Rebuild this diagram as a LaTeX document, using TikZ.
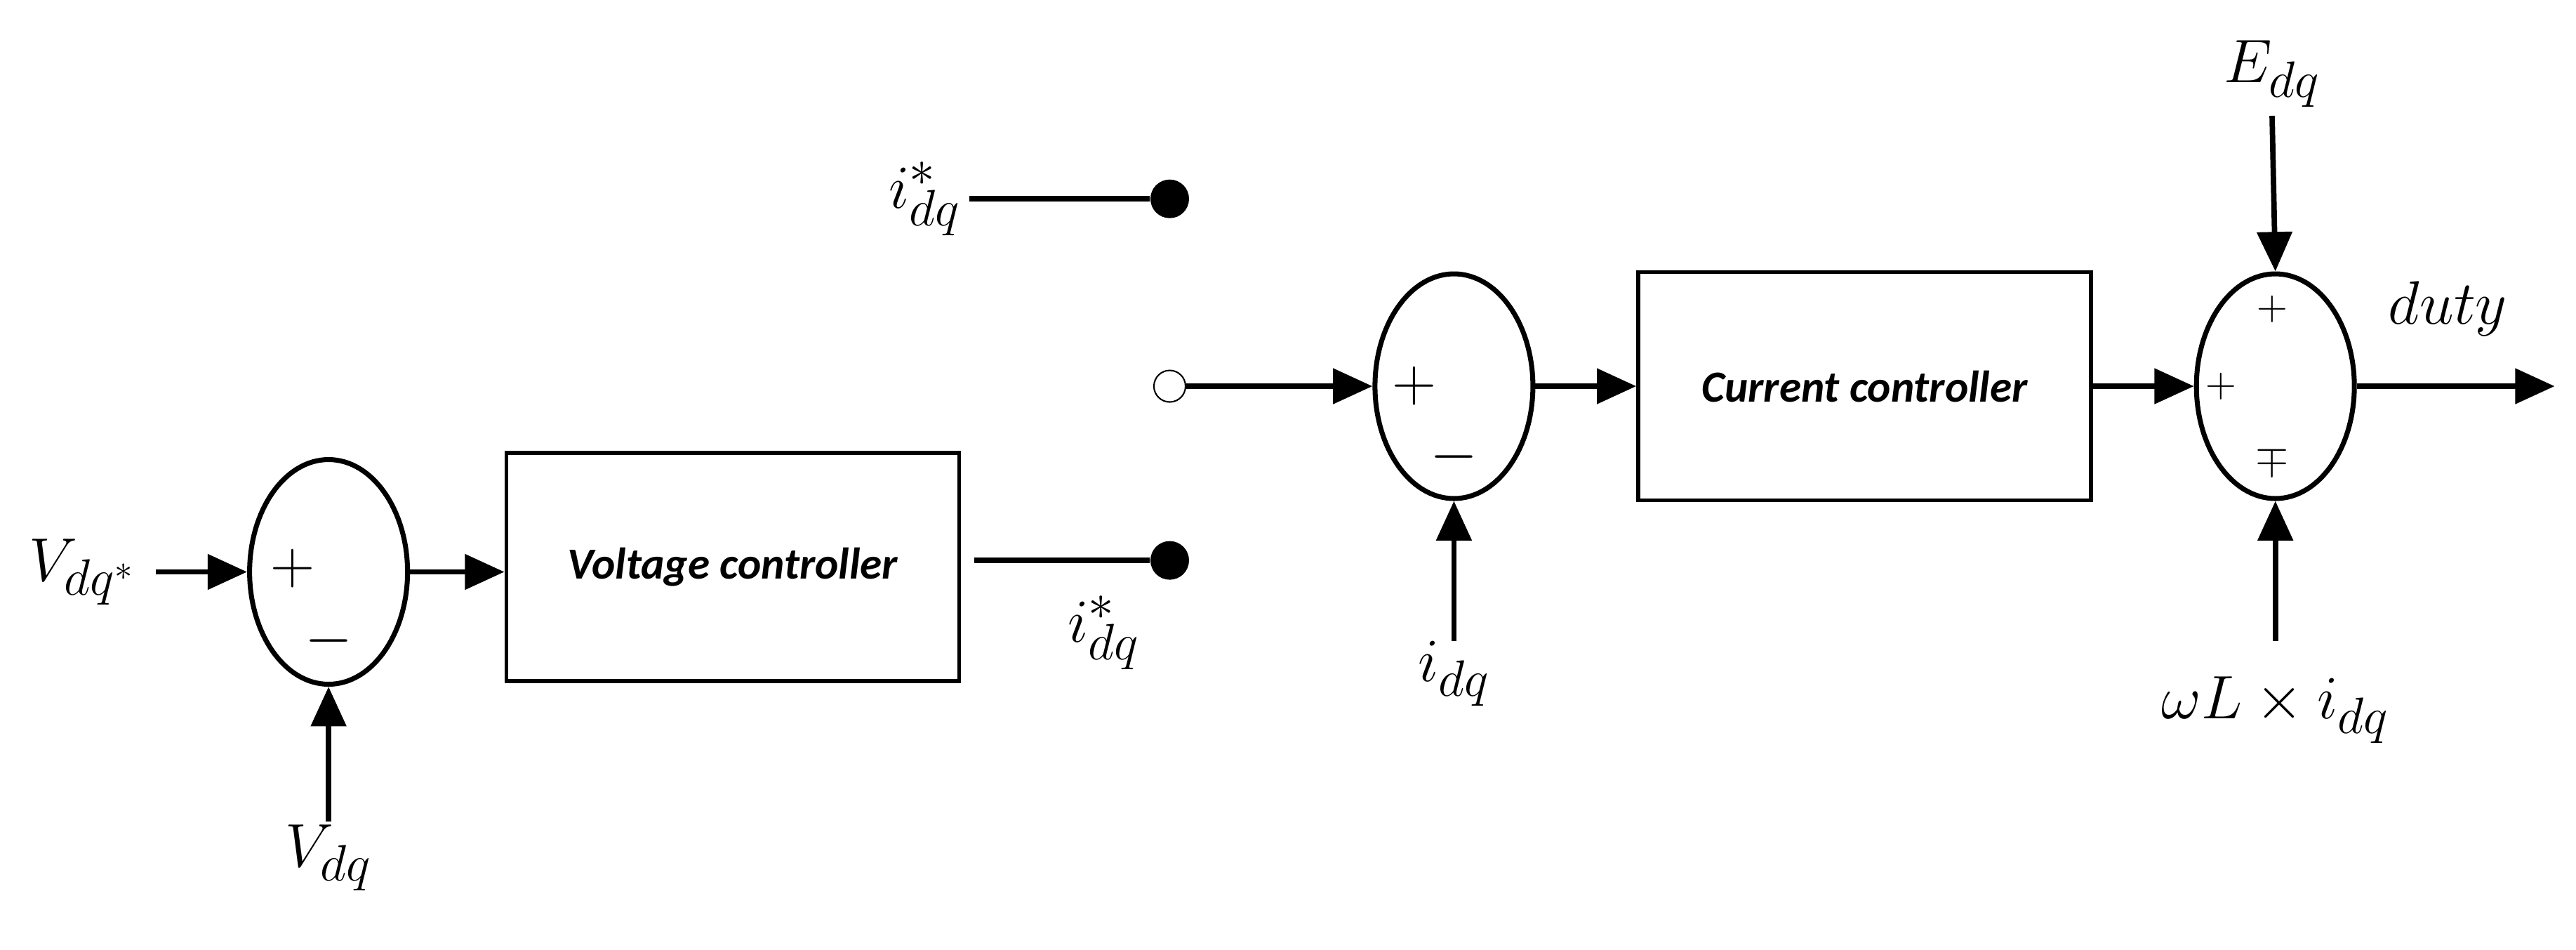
\documentclass[tikz,border=0pt]{standalone}
\usepackage{fontspec}
\newfontfamily\blockfont{Carlito}
\usetikzlibrary{shapes.geometric,arrows.meta}
\tikzset{
  sumnode/.style={ellipse,draw,line width=2pt,minimum width=2.25cm,minimum height=3.2cm},
  blocknode/.style={rectangle,draw,line width=1.6pt,minimum width=6.45cm,minimum height=3.25cm,font=\blockfont\bfseries\itshape\fontsize{18}{22}\selectfont},
  sig/.style={line width=2.2pt,-{Triangle[length=16pt,width=14pt]}},
  lbl/.style={font=\fontsize{30}{36}\selectfont},
  sgn/.style={font=\fontsize{24}{28}\selectfont}
}
\begin{document}
\begin{tikzpicture}[x=0.0234cm,y=-0.0234cm]
\useasboundingbox (0,0) rectangle (1568,578);
% voltage loop
\node[lbl] (vref) at (50,348) {$V_{dq^*}$};
\node[sumnode] (sumv) at (200,348) {};
\node[sgn] at (178,346) {$+$};
\node[sgn] at (200,390) {$-$};
\node[blocknode] (vc) at (446,345) {Voltage controller};
\node[lbl] (vdq) at (200,522) {$V_{dq}$};
\coordinate (vdqs) at (200,500);
\coordinate (vrefs) at (95,348);
\draw[sig] (vrefs) -- (sumv.west);
\draw[sig] (vdqs) -- (sumv.south);
\draw[sig] (sumv.east) -- (sumv.east -| vc.west);
% switch
\node[circle,fill,inner sep=0pt,minimum size=0.55cm] (dotlo) at (712,341) {};
\node[circle,fill,inner sep=0pt,minimum size=0.55cm] (dothi) at (712,121) {};
\node[circle,draw,line width=0.6pt,inner sep=0pt,minimum size=0.45cm] (pivot) at (712,235) {};
\node[lbl] (irefhi) at (563,121) {$i^*_{dq}$};
\node[lbl] (ireflo) at (672,385) {$i^*_{dq}$};
\draw[line width=2.2pt] (593,341) -- (dotlo);
\draw[line width=2.2pt] (irefhi.east |- dothi) -- (dothi);
% current loop
\node[sumnode] (sumi) at (885,235) {};
\node[sgn] at (861,235) {$+$};
\node[sgn] at (885,278) {$-$};
\node[blocknode] (cc) at (1135,235) {Current controller};
\node[lbl] (idq) at (885,410) {$i_{dq}$};
\coordinate (idqs) at (885,390);
\draw[sig] (pivot.east) -- (sumi.west);
\draw[sig] (idqs) -- (sumi.south);
\draw[sig] (sumi.east) -- (cc.west);
% decoupling
\node[sumnode] (sumd) at (1385,235) {};
\node[sgn,font=\fontsize{18}{22}\selectfont] at (1383,188) {$+$};
\node[sgn,font=\fontsize{18}{22}\selectfont] at (1352,235) {$+$};
\node[sgn,font=\fontsize{18}{22}\selectfont] at (1383,280) {$\mp$};
\node[lbl] (edq) at (1383,45) {$E_{dq}$};
\node[lbl] (wl) at (1385,432) {$\omega L\times i_{dq}$};
\node[lbl] (duty) at (1490,188) {$duty$};
\coordinate (wls) at (1385,390);
\coordinate (out) at (1555,235);
\draw[sig] (cc.east) -- (sumd.west);
\draw[sig] (edq.south) -- (sumd.north);
\draw[sig] (wls) -- (sumd.south);
\draw[sig] (sumd.east) -- (out);
\end{tikzpicture}
\end{document}
